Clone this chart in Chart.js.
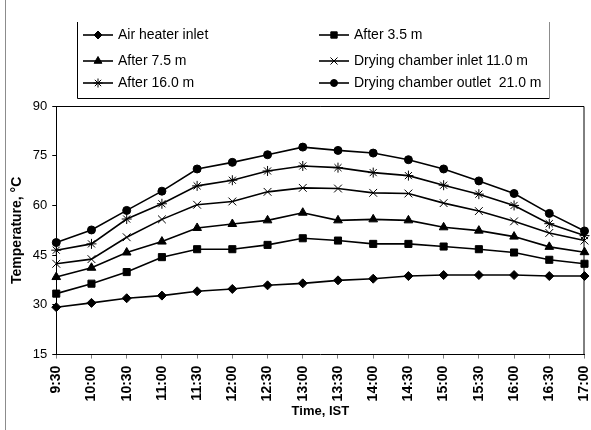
<!DOCTYPE html>
<html>
<head>
<meta charset="utf-8">
<script src="https://cdn.jsdelivr.net/npm/chart.js@4.4.1/dist/chart.umd.min.js"></script>
<style>
    html, body { margin: 0; padding: 0; background: #fff; }
    #wrap { width: 591px; height: 430px; position: relative; }
</style>
</head>
<body>
<div id="wrap"><canvas id="tempChart" width="591" height="430"></canvas></div>
<script>
// Time of day, IST
const timeLabels = ['9:30', '10:00', '10:30', '11:00', '11:30', '12:00', '12:30', '13:00',
    '13:30', '14:00', '14:30', '15:00', '15:30', '16:00', '16:30', '17:00'];

// Temperatures, deg C
const airHeaterInlet = [29.3, 30.6, 32.0, 32.8, 34.1, 34.8, 35.9, 36.5, 37.4, 37.9, 38.7, 39.0, 39.0, 39.0, 38.7, 38.7];
const after3_5m = [33.4, 36.4, 39.9, 44.4, 46.8, 46.8, 48.1, 50.1, 49.4, 48.4, 48.4, 47.6, 46.8, 45.8, 43.6, 42.4];
const after7_5m = [38.4, 41.2, 45.8, 49.1, 53.2, 54.4, 55.5, 57.8, 55.5, 55.8, 55.5, 53.4, 52.4, 50.6, 47.5, 45.9];
const dryingChamberInlet = [42.4, 43.8, 50.4, 55.8, 60.2, 61.2, 64.1, 65.3, 65.1, 63.8, 63.6, 60.7, 58.3, 55.2, 51.7, 49.4];
const after16m = [46.5, 48.4, 55.9, 60.5, 65.9, 67.6, 70.4, 71.9, 71.4, 69.9, 69.0, 66.1, 63.4, 60.0, 54.5, 50.9];
const dryingChamberOutlet = [48.8, 52.6, 58.5, 64.3, 71.0, 73.0, 75.3, 77.6, 76.6, 75.8, 73.8, 71.0, 67.4, 63.6, 57.6, 52.3];

const yTicks = [15, 30, 45, 60, 75, 90];

document.addEventListener('DOMContentLoaded', function() {
    const fontFamily = '"Liberation Sans", Arial, sans-serif';

    function makeSeries(label, data, style, radius) {
        return {
            label: label,
            data: data,
            borderColor: '#000',
            backgroundColor: '#000',
            borderWidth: 1.6,
            pointStyle: style,
            pointRadius: radius,
            pointBorderWidth: 1,
            pointBackgroundColor: '#000',
            pointBorderColor: '#000',
            tension: 0,
            fill: false
        };
    }

    const datasets = [
        makeSeries('Air heater inlet', airHeaterInlet, 'rectRot', 4.5),
        makeSeries('After 3.5 m', after3_5m, 'rect', 5),
        makeSeries('After 7.5 m', after7_5m, 'triangle', 5),
        makeSeries('Drying chamber inlet 11.0 m', dryingChamberInlet, 'crossRot', 5.5),
        makeSeries('After 16.0 m', after16m, 'star', 5),
        makeSeries('Drying chamber outlet  21.0 m', dryingChamberOutlet, 'circle', 4)
    ];

    // Two-column boxed legend above the plot, like the spreadsheet original
    const boxLegend = {
        id: 'boxLegend',
        afterDraw(chart) {
            const ctx = chart.ctx;
            ctx.save();
            // outer frame edge on the left
            ctx.strokeStyle = '#8c8c8c';
            ctx.lineWidth = 1;
            ctx.beginPath();
            ctx.moveTo(5.5, 0);
            ctx.lineTo(5.5, 430);
            ctx.stroke();

            // legend box (top side falls outside the picture)
            ctx.strokeStyle = '#000';
            ctx.beginPath();
            ctx.moveTo(77.5, 22);
            ctx.lineTo(77.5, 98.5);
            ctx.lineTo(549.5, 98.5);
            ctx.stroke();
            ctx.strokeStyle = '#8c8c8c';
            ctx.beginPath();
            ctx.moveTo(549.5, 22);
            ctx.lineTo(549.5, 98.5);
            ctx.stroke();

            const cols = [83, 319];
            const rows = [35, 61, 83];
            ctx.font = '14px ' + fontFamily;
            ctx.textBaseline = 'middle';
            ctx.textAlign = 'left';
            chart.data.datasets.forEach(function(ds, i) {
                const x = cols[i % 2];
                const y = rows[Math.floor(i / 2)];
                ctx.strokeStyle = '#000';
                ctx.fillStyle = '#000';
                ctx.lineWidth = 1.6;
                ctx.beginPath();
                ctx.moveTo(x, y);
                ctx.lineTo(x + 30, y);
                ctx.stroke();
                ctx.lineWidth = 1;
                Chart.helpers.drawPoint(ctx, {
                    pointStyle: ds.pointStyle,
                    radius: ds.pointRadius - 0.5,
                    borderWidth: 1,
                    rotation: 0
                }, x + 15, y);
                ctx.fillStyle = '#000';
                ctx.fillText(ds.label, x + 35, y);
            });
            ctx.restore();
        }
    };

    // top and right sides of the plot area
    const plotFrame = {
        id: 'plotFrame',
        beforeDatasetsDraw(chart) {
            const a = chart.chartArea;
            const ctx = chart.ctx;
            ctx.save();
            ctx.strokeStyle = '#000';
            ctx.lineWidth = 1;
            ctx.beginPath();
            ctx.moveTo(a.left, a.top + 0.5);
            ctx.lineTo(a.right - 0.5, a.top + 0.5);
            ctx.lineTo(a.right - 0.5, a.bottom);
            ctx.stroke();
            ctx.restore();
        }
    };

    const ctx = document.getElementById('tempChart').getContext('2d');
    const chart = new Chart(ctx, {
        type: 'line',
        data: { labels: timeLabels, datasets: datasets },
        options: {
            responsive: false,
            animation: false,
            layout: {
                padding: { top: 106, right: 0, bottom: 11, left: 0 }
            },
            plugins: {
                legend: { display: false },
                tooltip: { enabled: false }
            },
            scales: {
                x: {
                    offset: false,
                    afterFit: function(scale) {
                        // rotated end labels should not push the plot inwards
                        scale.paddingLeft = 0;
                        scale.paddingRight = 6;
                    },
                    grid: {
                        drawOnChartArea: false,
                        drawTicks: true,
                        tickLength: 4,
                        color: '#808080'
                    },
                    border: { color: '#000', width: 1 },
                    ticks: {
                        autoSkip: false,
                        maxRotation: 90,
                        minRotation: 90,
                        padding: 7,
                        color: '#000',
                        font: { family: fontFamily, size: 14, weight: 'bold' }
                    },
                    title: {
                        display: true,
                        text: 'Time, IST',
                        color: '#000',
                        padding: { top: -5, bottom: 0 },
                        font: { family: fontFamily, size: 13, weight: 'bold' }
                    }
                },
                y: {
                    min: yTicks[0],
                    max: yTicks[yTicks.length - 1],
                    afterBuildTicks: function(scale) {
                        scale.ticks = yTicks.map(v => ({ value: v }));
                    },
                    grid: {
                        drawOnChartArea: false,
                        drawTicks: true,
                        tickLength: 4,
                        color: '#000'
                    },
                    border: { color: '#000', width: 1 },
                    ticks: {
                        padding: 5,
                        color: '#000',
                        font: { family: fontFamily, size: 13 }
                    },
                    title: {
                        display: true,
                        text: 'Temperature, °C',
                        color: '#000',
                        padding: { top: 9, bottom: 2 },
                        font: { family: fontFamily, size: 14, weight: 'bold' }
                    }
                }
            }
        },
        plugins: [plotFrame, boxLegend]
    });
});
</script>
</body>
</html>
